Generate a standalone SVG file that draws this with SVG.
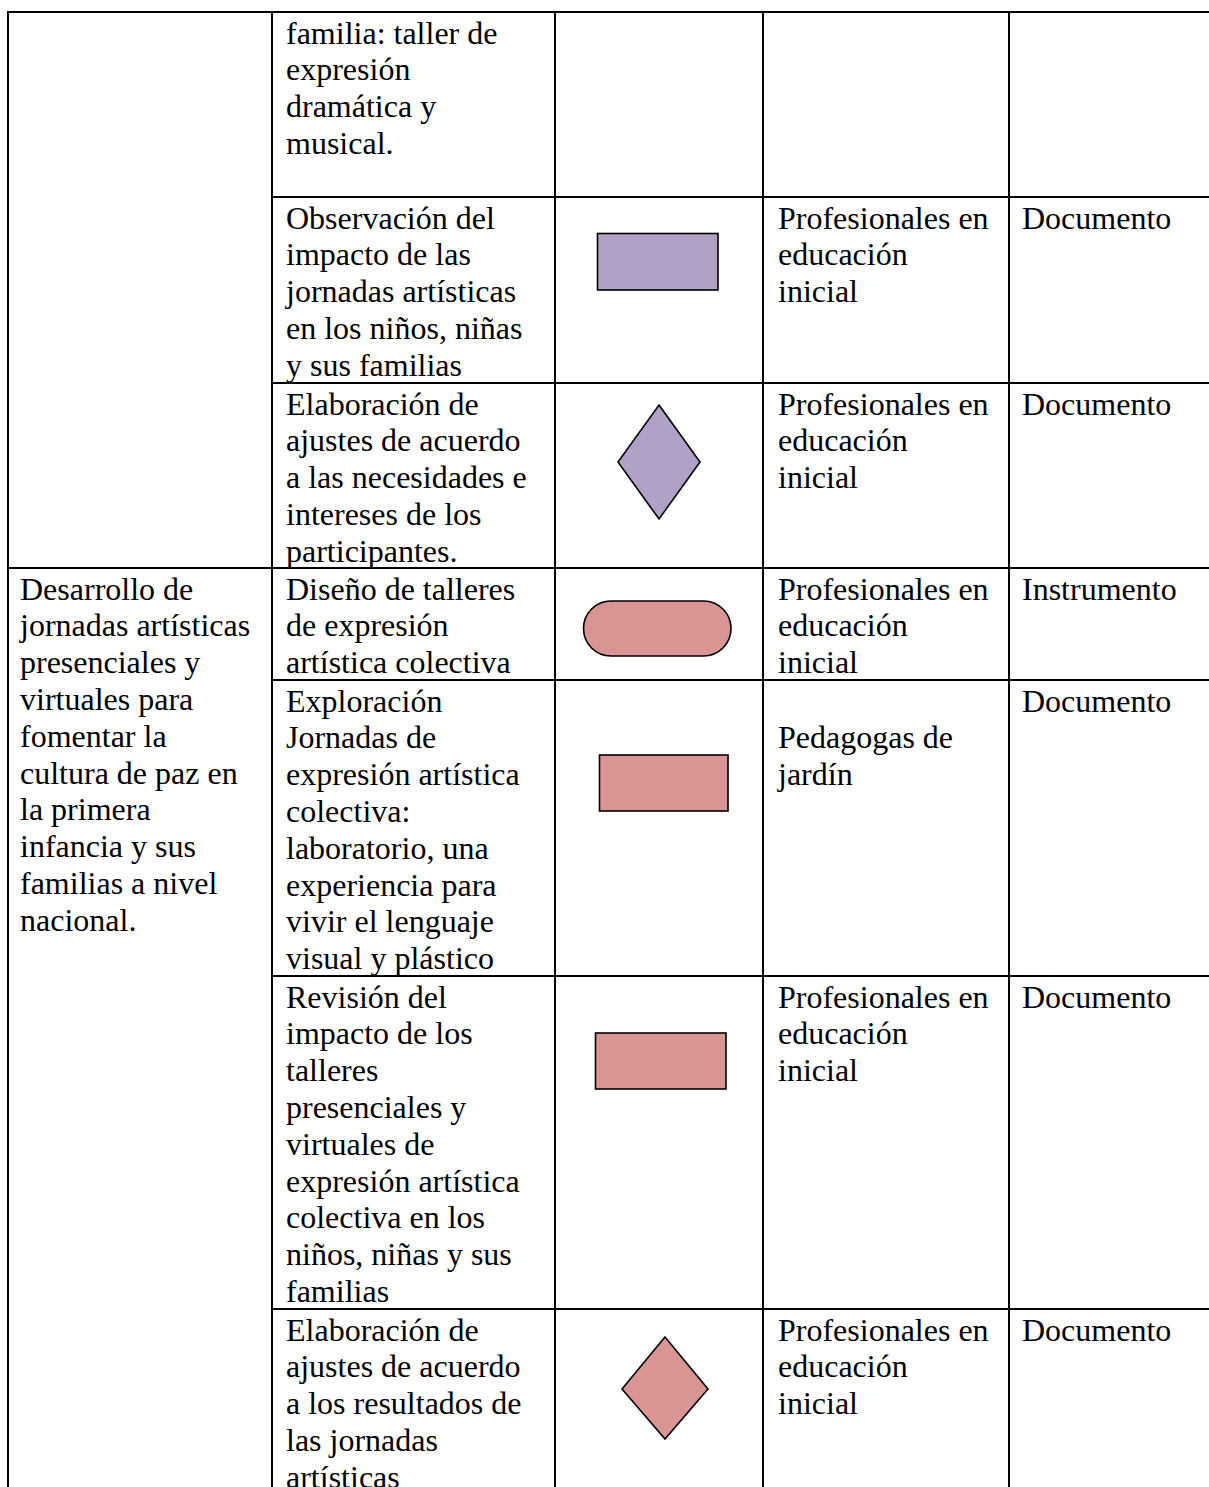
<svg xmlns="http://www.w3.org/2000/svg" width="1209" height="1487" viewBox="0 0 1209 1487">
<style>
.g{stroke:#000;stroke-width:2;fill:none}
.t{font-family:"Liberation Serif","Times New Roman",serif;font-size:32px;fill:#000}
.pu{fill:#b2a1c7;stroke:#000;stroke-width:1.6}
.pk{fill:#d99594;stroke:#000;stroke-width:1.6}
</style>
<rect width="1209" height="1487" fill="#fff"/>
<g id="grid">
<line class="g" x1="7" y1="12" x2="1209" y2="12"/>
<line class="g" x1="8" y1="11" x2="8" y2="1487"/>
<line class="g" x1="272" y1="11" x2="272" y2="1487"/>
<line class="g" x1="555" y1="11" x2="555" y2="1487"/>
<line class="g" x1="763" y1="11" x2="763" y2="1487"/>
<line class="g" x1="1009" y1="11" x2="1009" y2="1487"/>
<line class="g" x1="272" y1="197" x2="1209" y2="197"/>
<line class="g" x1="272" y1="383" x2="1209" y2="383"/>
<line class="g" x1="8" y1="568" x2="1209" y2="568"/>
<line class="g" x1="272" y1="680" x2="1209" y2="680"/>
<line class="g" x1="272" y1="976" x2="1209" y2="976"/>
<line class="g" x1="272" y1="1309" x2="1209" y2="1309"/>
</g>
<g id="row1">
<text class="t" x="286" y="43.5"><tspan x="286">familia: taller de</tspan><tspan x="286" dy="36.8">expresión</tspan><tspan x="286" dy="36.8">dramática y</tspan><tspan x="286" dy="36.8">musical.</tspan></text>
</g>
<g id="row2">
<text class="t" x="286" y="228.5"><tspan x="286">Observación del</tspan><tspan x="286" dy="36.8">impacto de las</tspan><tspan x="286" dy="36.8">jornadas artísticas</tspan><tspan x="286" dy="36.8">en los niños, niñas</tspan><tspan x="286" dy="36.8">y sus familias</tspan></text>
<rect class="pu" x="597.5" y="233.5" width="120.5" height="56.5"/>
<text class="t" x="778" y="228.5"><tspan x="778">Profesionales en</tspan><tspan x="778" dy="36.8">educación</tspan><tspan x="778" dy="36.8">inicial</tspan></text>
<text class="t" x="1022" y="228.5">Documento</text>
</g>
<g id="row3">
<text class="t" x="286" y="414.5"><tspan x="286">Elaboración de</tspan><tspan x="286" dy="36.8">ajustes de acuerdo</tspan><tspan x="286" dy="36.8">a las necesidades e</tspan><tspan x="286" dy="36.8">intereses de los</tspan><tspan x="286" dy="36.8">participantes.</tspan></text>
<polygon class="pu" points="659,405 700,462 659,519 618,462"/>
<text class="t" x="778" y="414.5"><tspan x="778">Profesionales en</tspan><tspan x="778" dy="36.8">educación</tspan><tspan x="778" dy="36.8">inicial</tspan></text>
<text class="t" x="1022" y="414.5">Documento</text>
</g>
<g id="row4">
<text class="t" x="20" y="599.5"><tspan x="20">Desarrollo de</tspan><tspan x="20" dy="36.8">jornadas artísticas</tspan><tspan x="20" dy="36.8">presenciales y</tspan><tspan x="20" dy="36.8">virtuales para</tspan><tspan x="20" dy="36.8">fomentar la</tspan><tspan x="20" dy="36.8">cultura de paz en</tspan><tspan x="20" dy="36.8">la primera</tspan><tspan x="20" dy="36.8">infancia y sus</tspan><tspan x="20" dy="36.8">familias a nivel</tspan><tspan x="20" dy="36.8">nacional.</tspan></text>
<text class="t" x="286" y="599.5"><tspan x="286">Diseño de talleres</tspan><tspan x="286" dy="36.8">de expresión</tspan><tspan x="286" dy="36.8">artística colectiva</tspan></text>
<rect class="pk" x="583.5" y="601" width="147.5" height="55" rx="27.5" ry="27.5"/>
<text class="t" x="778" y="599.5"><tspan x="778">Profesionales en</tspan><tspan x="778" dy="36.8">educación</tspan><tspan x="778" dy="36.8">inicial</tspan></text>
<text class="t" x="1022" y="599.5">Instrumento</text>
</g>
<g id="row5">
<text class="t" x="286" y="711.5"><tspan x="286">Exploración</tspan><tspan x="286" dy="36.8">Jornadas de</tspan><tspan x="286" dy="36.8">expresión artística</tspan><tspan x="286" dy="36.8">colectiva:</tspan><tspan x="286" dy="36.8">laboratorio, una</tspan><tspan x="286" dy="36.8">experiencia para</tspan><tspan x="286" dy="36.8">vivir el lenguaje</tspan><tspan x="286" dy="36.8">visual y plástico</tspan></text>
<rect class="pk" x="599.5" y="755" width="128.5" height="56"/>
<text class="t" x="778" y="748.3"><tspan x="778">Pedagogas de</tspan><tspan x="778" dy="36.8">jardín</tspan></text>
<text class="t" x="1022" y="711.5">Documento</text>
</g>
<g id="row6">
<text class="t" x="286" y="1007.5"><tspan x="286">Revisión del</tspan><tspan x="286" dy="36.8">impacto de los</tspan><tspan x="286" dy="36.8">talleres</tspan><tspan x="286" dy="36.8">presenciales y</tspan><tspan x="286" dy="36.8">virtuales de</tspan><tspan x="286" dy="36.8">expresión artística</tspan><tspan x="286" dy="36.8">colectiva en los</tspan><tspan x="286" dy="36.8">niños, niñas y sus</tspan><tspan x="286" dy="36.8">familias</tspan></text>
<rect class="pk" x="595.5" y="1033" width="130.5" height="56"/>
<text class="t" x="778" y="1007.5"><tspan x="778">Profesionales en</tspan><tspan x="778" dy="36.8">educación</tspan><tspan x="778" dy="36.8">inicial</tspan></text>
<text class="t" x="1022" y="1007.5">Documento</text>
</g>
<g id="row7">
<text class="t" x="286" y="1340.5"><tspan x="286">Elaboración de</tspan><tspan x="286" dy="36.8">ajustes de acuerdo</tspan><tspan x="286" dy="36.8">a los resultados de</tspan><tspan x="286" dy="36.8">las jornadas</tspan><tspan x="286" dy="36.8">artísticas</tspan></text>
<polygon class="pk" points="665,1337 708,1389 665,1439 622,1389"/>
<text class="t" x="778" y="1340.5"><tspan x="778">Profesionales en</tspan><tspan x="778" dy="36.8">educación</tspan><tspan x="778" dy="36.8">inicial</tspan></text>
<text class="t" x="1022" y="1340.5">Documento</text>
</g>
</svg>
